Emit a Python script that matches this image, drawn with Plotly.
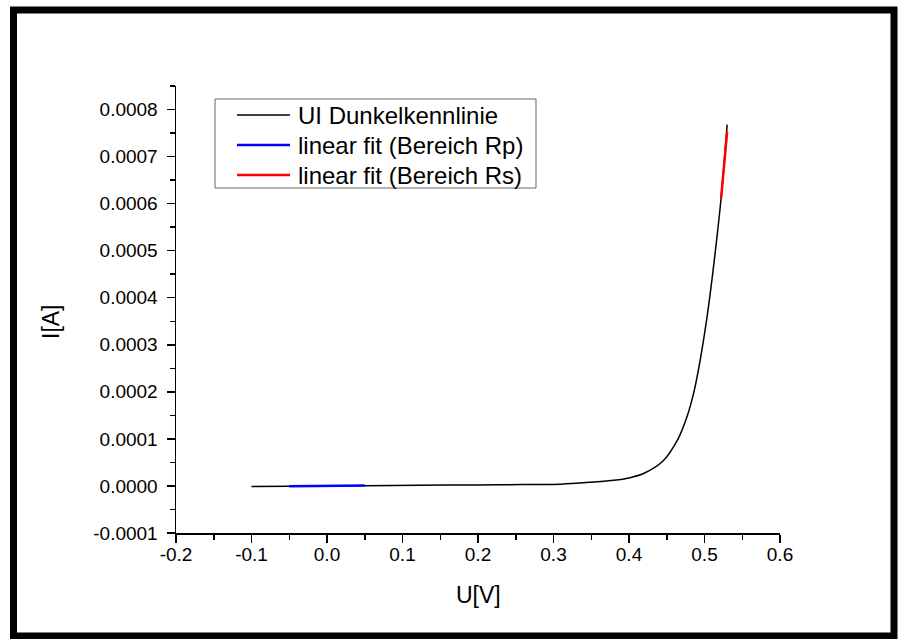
import plotly.graph_objects as go

# ---- data ----
u_curve = [-0.10, -0.05, 0.00, 0.05, 0.12, 0.20, 0.26, 0.31, 0.35, 0.38, 0.40, 0.42,
           0.445, 0.465, 0.477, 0.486, 0.494, 0.503, 0.510, 0.522, 0.530]
i_curve = [-1.3e-6, -0.8e-6, 0.0, 0.5e-6, 1.4e-6, 2.2e-6, 3.0e-6, 3.8e-6, 8.0e-6, 12e-6,
           17e-6, 27e-6, 53e-6, 100e-6, 148e-6, 200e-6, 265e-6, 355e-6, 440e-6,
           612e-6, 768e-6]
u_fit_rp = [-0.05, 0.05]
i_fit_rp = [-0.7e-6, 0.8e-6]
u_fit_rs = [0.522, 0.530]
i_fit_rs = [612e-6, 753e-6]

names = ["UI Dunkelkennlinie", "linear fit (Bereich Rp)", "linear fit (Bereich Rs)"]
colors = ["black", "#0000ff", "#ff0000"]

x_ticks = [-0.2, -0.1, 0.0, 0.1, 0.2, 0.3, 0.4, 0.5, 0.6]
x_ticktext = ["-0.2", "-0.1", "0.0", "0.1", "0.2", "0.3", "0.4", "0.5", "0.6"]
y_ticks = [-0.0001, 0.0, 0.0001, 0.0002, 0.0003, 0.0004, 0.0005, 0.0006, 0.0007, 0.0008]
y_ticktext = ["-0.0001", "0.0000", "0.0001", "0.0002", "0.0003", "0.0004",
              "0.0005", "0.0006", "0.0007", "0.0008"]

W, H = 901, 639
L, R, T, B = 176, 121, 86, 106
PW, PH = W - L - R, H - T - B


def px(x):
    return (x - L) / PW


def py(y):
    return (H - B - y) / PH


FONT = "Liberation Sans, Arial, sans-serif"

fig = go.Figure()
fig.add_trace(go.Scatter(x=u_curve, y=i_curve, mode="lines", name=names[0],
                         line=dict(color=colors[0], width=1.5, shape="spline",
                                   smoothing=0.8), showlegend=False))
fig.add_trace(go.Scatter(x=u_fit_rp, y=i_fit_rp, mode="lines", name=names[1],
                         line=dict(color=colors[1], width=2.5), showlegend=False))
fig.add_trace(go.Scatter(x=u_fit_rs, y=i_fit_rs, mode="lines", name=names[2],
                         line=dict(color=colors[2], width=2.5), showlegend=False))

axis_common = dict(showgrid=False, zeroline=False, showline=True, linecolor="black",
                   linewidth=1.5, ticks="outside", ticklen=8, tickwidth=1.5,
                   tickcolor="black", tickfont=dict(family=FONT, size=19, color="black"),
                   mirror=False)

fig.update_xaxes(range=[-0.2, 0.6], tickvals=x_ticks, ticktext=x_ticktext,
                 ticklabelstandoff=-4,
                 minor=dict(ticks="outside", ticklen=5, tickwidth=1.5, tickcolor="black",
                            tickvals=[-0.15, -0.05, 0.05, 0.15, 0.25, 0.35, 0.45, 0.55]),
                 **axis_common)
fig.update_yaxes(range=[-0.0001, 0.00085], tickvals=y_ticks, ticktext=y_ticktext,
                 ticklabelstandoff=5,
                 minor=dict(ticks="outside", ticklen=5, tickwidth=1.5, tickcolor="black",
                            tickvals=[-0.00005, 0.00005, 0.00015, 0.00025, 0.00035,
                                      0.00045, 0.00055, 0.00065, 0.00075, 0.00085]),
                 **axis_common)

shapes = []
annotations = []
# outer frame
shapes.append(dict(type="rect", xref="paper", yref="paper",
                   x0=px(13.5), x1=px(894), y0=py(10), y1=py(636),
                   line=dict(color="black", width=7), fillcolor="rgba(0,0,0,0)"))
# legend box
shapes.append(dict(type="rect", xref="paper", yref="paper",
                   x0=px(215), x1=px(536), y0=py(99), y1=py(188),
                   line=dict(color="#666666", width=1), fillcolor="white"))
leg_y = [115, 145, 175]
leg_w = [1.5, 2.5, 2.5]
for k in range(3):
    shapes.append(dict(type="line", xref="paper", yref="paper",
                       x0=px(237), x1=px(290), y0=py(leg_y[k]), y1=py(leg_y[k]),
                       line=dict(color=colors[k], width=leg_w[k])))
    annotations.append(dict(xref="paper", yref="paper", x=px(296), y=py(leg_y[k]),
                            text=names[k], showarrow=False, xanchor="left",
                            yanchor="middle",
                            font=dict(family=FONT, size=24, color="black")))
# axis titles
annotations.append(dict(xref="paper", yref="paper", x=px(478), y=py(595), text="U[V]",
                        showarrow=False, xanchor="center", yanchor="middle",
                        font=dict(family=FONT, size=23, color="black")))
annotations.append(dict(xref="paper", yref="paper", x=px(51), y=py(322), text="I[A]",
                        showarrow=False, xanchor="center", yanchor="middle", textangle=-90,
                        font=dict(family=FONT, size=23, color="black")))

fig.update_layout(width=W, height=H, margin=dict(l=L, r=R, t=T, b=B, autoexpand=False),
                  paper_bgcolor="white", plot_bgcolor="white", showlegend=False,
                  hovermode=False, shapes=shapes, annotations=annotations)

fig.write_html("out.html", config={"displayModeBar": False, "staticPlot": True},
               post_script="document.body.style.margin='0px';"
                           "document.body.style.overflow='hidden';")
